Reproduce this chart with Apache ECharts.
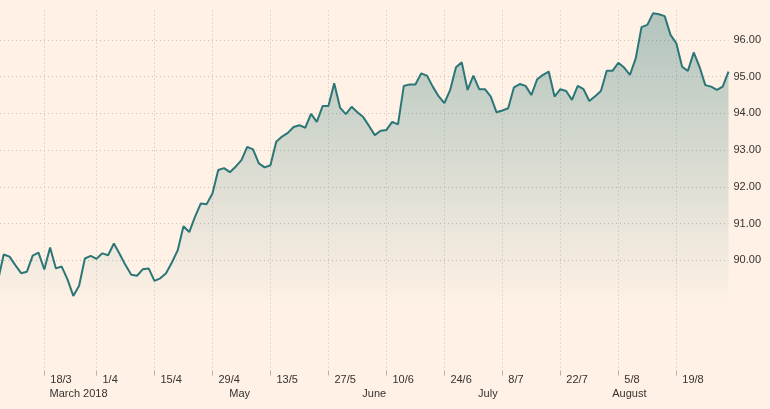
<!DOCTYPE html>
<html>
<head>
<meta charset="utf-8">
<script src="https://cdn.jsdelivr.net/npm/echarts@6/dist/echarts.min.js"></script>
<style>
html,body{margin:0;padding:0;background:#fff1e5;}
#c{width:770px;height:409px;}
</style>
</head>
<body>
<div id="c"></div>
<script>
// Trading days (Good Friday 30/3 closed)
const dates = [
"2018-03-07","2018-03-08","2018-03-09","2018-03-12","2018-03-13","2018-03-14","2018-03-15","2018-03-16","2018-03-19","2018-03-20",
"2018-03-21","2018-03-22","2018-03-23","2018-03-26","2018-03-27","2018-03-28","2018-03-29",
"2018-04-02","2018-04-03","2018-04-04","2018-04-05","2018-04-06","2018-04-09","2018-04-10","2018-04-11","2018-04-12","2018-04-13",
"2018-04-16","2018-04-17","2018-04-18","2018-04-19","2018-04-20","2018-04-23","2018-04-24","2018-04-25","2018-04-26","2018-04-27","2018-04-30",
"2018-05-01","2018-05-02","2018-05-03","2018-05-04","2018-05-07","2018-05-08","2018-05-09","2018-05-10","2018-05-11",
"2018-05-14","2018-05-15","2018-05-16","2018-05-17","2018-05-18","2018-05-21","2018-05-22","2018-05-23","2018-05-24","2018-05-25",
"2018-05-28","2018-05-29","2018-05-30","2018-05-31",
"2018-06-01","2018-06-04","2018-06-05","2018-06-06","2018-06-07","2018-06-08","2018-06-11","2018-06-12","2018-06-13","2018-06-14","2018-06-15",
"2018-06-18","2018-06-19","2018-06-20","2018-06-21","2018-06-22","2018-06-25","2018-06-26","2018-06-27","2018-06-28","2018-06-29",
"2018-07-02","2018-07-03","2018-07-04","2018-07-05","2018-07-06","2018-07-09","2018-07-10","2018-07-11","2018-07-12","2018-07-13",
"2018-07-16","2018-07-17","2018-07-18","2018-07-19","2018-07-20","2018-07-23","2018-07-24","2018-07-25","2018-07-26","2018-07-27","2018-07-30","2018-07-31",
"2018-08-01","2018-08-02","2018-08-03","2018-08-06","2018-08-07","2018-08-08","2018-08-09","2018-08-10","2018-08-13","2018-08-14","2018-08-15",
"2018-08-16","2018-08-17","2018-08-20","2018-08-21","2018-08-22","2018-08-23","2018-08-24","2018-08-27","2018-08-28","2018-08-29","2018-08-30","2018-08-31"
];

const values = [
89.44, 90.16, 90.10, 89.87, 89.65, 89.69, 90.13, 90.21, 89.75, 90.35,
89.78, 89.83, 89.48, 89.03, 89.31, 90.05, 90.12, 90.04, 90.19, 90.14,
90.46, 90.17, 89.87, 89.61, 89.58, 89.76, 89.78, 89.44, 89.51, 89.65,
89.94, 90.27, 90.93, 90.77, 91.19, 91.55, 91.53, 91.82, 92.46, 92.51,
92.40, 92.55, 92.73, 93.09, 93.02, 92.64, 92.53, 92.59, 93.23, 93.37,
93.47, 93.63, 93.68, 93.61, 93.99, 93.77, 94.20, 94.20, 94.82, 94.16,
93.98, 94.18, 94.03, 93.90, 93.66, 93.41, 93.53, 93.55, 93.77, 93.70,
94.75, 94.79, 94.79, 95.09, 95.03, 94.73, 94.47, 94.28, 94.64, 95.26,
95.39, 94.64, 95.03, 94.66, 94.66, 94.46, 94.03, 94.08, 94.14, 94.71,
94.80, 94.75, 94.50, 94.93, 95.05, 95.14, 94.46, 94.66, 94.61, 94.37,
94.75, 94.66, 94.34, 94.47, 94.61, 95.16, 95.16, 95.38, 95.25, 95.05,
95.50, 96.35, 96.41, 96.73, 96.70, 96.65, 96.14, 95.91, 95.27, 95.16,
95.66, 95.27, 94.77, 94.73, 94.64, 94.73, 95.14
];

// Tick labels (Sunday labels, placed at the following trading Monday)
const tickLabels = ["18/3","1/4","15/4","29/4","13/5","27/5","10/6","24/6","8/7","22/7","5/8","19/8"];
const tickDates  = ["2018-03-19","2018-04-02","2018-04-16","2018-04-30","2018-05-14","2018-05-28",
                    "2018-06-11","2018-06-25","2018-07-09","2018-07-23","2018-08-06","2018-08-20"];
const monthLabels = ["March 2018","May","June","July","August"];
const yTicks = [90, 91, 92, 93, 94, 95, 96];

// layout-only positions (trading-day index) of the month captions
const monthLabelAt = [13.9, 41.7, 64.9, 84.5, 108.9];

const tickIdx = tickDates.map(d => dates.indexOf(d));
const seriesData = values.map((v, i) => [i, v]);

const chart = echarts.init(document.getElementById('c'), null, {renderer: 'canvas'});
const font = '"Liberation Sans", Arial, sans-serif';
const txt = '#353230';
const gridCol = '#c9c0b8';

chart.setOption({
  backgroundColor: '#fff1e5',
  animation: false,
  grid: {left: 0, right: 41.5, top: 10.6, bottom: 38.5, containLabel: false},
  xAxis: [{
    type: 'value',
    min: 0.36, max: 126,
    axisLine: {show: false},
    axisTick: {show: true, customValues: tickIdx, length: 5, lineStyle: {color: '#b9b1aa', width: 1}},
    axisLabel: {
      customValues: tickIdx, align: 'left', padding: [0, 0, 0, 6], margin: 4,
      fontFamily: font, fontSize: 11, color: txt,
      formatter: v => { const k = tickIdx.indexOf(Math.round(v)); return k >= 0 ? tickLabels[k] : ''; }
    },
    splitLine: {show: true, lineStyle: {color: gridCol, type: [1, 3], width: 1}}
  }, {
    type: 'value',
    min: 0.36, max: 126,
    position: 'bottom', offset: 14,
    axisLine: {show: false},
    axisTick: {show: false},
    splitLine: {show: false},
    axisLabel: {
      customValues: monthLabelAt, align: 'center', margin: 4,
      fontFamily: font, fontSize: 11, color: txt,
      formatter: v => { let k = monthLabelAt.findIndex(m => Math.abs(m - v) < 0.01); return k >= 0 ? monthLabels[k] : ''; }
    }
  }],
  yAxis: {
    type: 'value',
    position: 'right',
    min: 87, max: 96.8,
    axisLine: {show: false},
    axisTick: {show: false, customValues: yTicks},
    axisLabel: {customValues: yTicks, margin: 5, fontFamily: font, fontSize: 11, color: txt,
      formatter: v => v.toFixed(2)},
    splitLine: {show: true, lineStyle: {color: gridCol, type: [1, 3], width: 1}}
  },
  series: [{
    type: 'line',
    data: seriesData,
    xAxisIndex: 0,
    symbol: 'none',
    lineStyle: {color: '#2b7677', width: 2},
    areaStyle: {
      origin: 'start',
      color: new echarts.graphic.LinearGradient(0, 0, 0, 1, [
        {offset: 0, color: 'rgba(43,118,119,0.52)'},
        {offset: 0.82, color: 'rgba(43,118,119,0)'},
        {offset: 1, color: 'rgba(43,118,119,0)'}
      ])
    }
  }]
});
</script>
</body>
</html>
